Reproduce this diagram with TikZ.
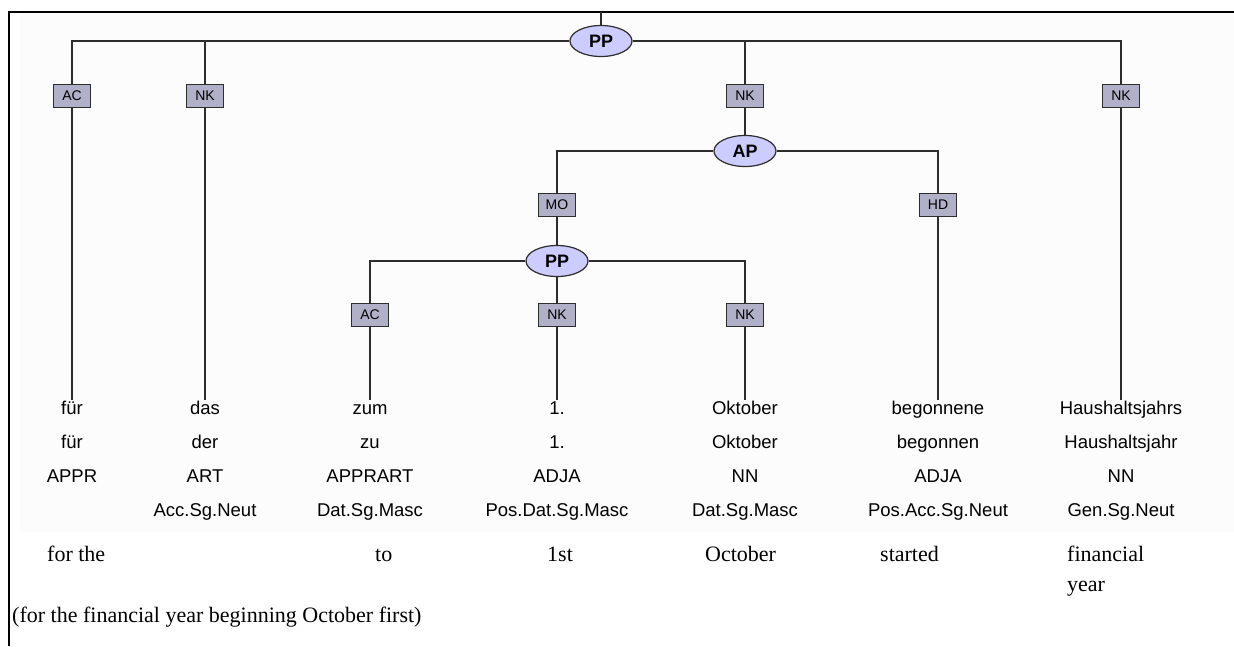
\documentclass[tikz,border=0pt]{standalone}
\usepackage{fontspec}
\setmainfont{Liberation Serif}
\newfontfamily\treefont{Liberation Sans}
\usetikzlibrary{shapes.geometric}

\definecolor{catfill}{RGB}{204,204,255}
\definecolor{labfill}{RGB}{176,176,200}
\definecolor{treeline}{RGB}{45,45,45}

\tikzset{
  cat/.style={ellipse, draw=treeline, fill=catfill, line width=1.2pt,
    minimum width=62pt, minimum height=31pt, inner sep=0pt,
    font=\treefont\fontsize{18}{18}\selectfont\bfseries},
  lab/.style={rectangle, draw=treeline, fill=labfill, line width=1.2pt,
    minimum width=37pt, minimum height=23pt, inner sep=0pt,
    font=\treefont\fontsize{14}{14}\selectfont},
  word/.style={font=\treefont\fontsize{18.5}{18.5}\selectfont, inner sep=0pt,
    text height=14pt, text depth=4pt, anchor=base},
  gloss/.style={font=\fontsize{22}{22}\selectfont, inner sep=0pt, anchor=base west},
  branch/.style={draw=treeline, line width=1.5pt},
}

\begin{document}
\begin{tikzpicture}[x=1pt, y=-1pt]
    \useasboundingbox (0,0) rectangle (1234,646);

    %panel and frame:
    \fill[black!1] (20,14) rectangle (1234,532);
    \draw[line width=2.2pt] (1234,12) -- (9,12) -- (9,646);
    \coordinate (roof) at (601,12);

    %phrase nodes:
    \node[cat] (pp1) at (601,41) {PP};
    \node[cat] (ap) at (745,151) {AP};
    \node[cat] (pp2) at (557,261) {PP};

    %edge labels:
    \node[lab] (ac1) at (72,96) {AC};
    \node[lab] (nk1) at (205,96) {NK};
    \node[lab] (nk2) at (745,96) {NK};
    \node[lab] (nk3) at (1121,96) {NK};
    \node[lab] (mo) at (557,205) {MO};
    \node[lab] (hd) at (938,205) {HD};
    \node[lab] (ac2) at (370,315) {AC};
    \node[lab] (nk4) at (557,315) {NK};
    \node[lab] (nk5) at (745,315) {NK};

    %terminals: word, lemma, tag, morphology
    \foreach \col/\x/\wrd/\lem/\tag/\morph in {
        1/72/für/für/APPR/,
        2/205/das/der/ART/Acc.Sg.Neut,
        3/370/zum/zu/APPRART/Dat.Sg.Masc,
        4/557/1./1./ADJA/Pos.Dat.Sg.Masc,
        5/745/Oktober/Oktober/NN/Dat.Sg.Masc,
        6/938/begonnene/begonnen/ADJA/Pos.Acc.Sg.Neut,
        7/1121/Haushaltsjahrs/Haushaltsjahr/NN/Gen.Sg.Neut}{
      \node[word] (w\col) at (\x,414) {\wrd};
      \node[word] (l\col) at (\x,448) {\lem};
      \node[word] (t\col) at (\x,482) {\tag};
      \node[word] (m\col) at (\x,516) {\morph};
    }

    %branches:
    \draw[branch] (pp1) -- (roof);
    \draw[branch] (ac1.north) |- (pp1.west);
    \draw[branch] (nk1.north) |- (pp1.west);
    \draw[branch] (nk2.north) |- (pp1.east);
    \draw[branch] (nk3.north) |- (pp1.east);
    \draw[branch] (nk2) -- (ap);
    \draw[branch] (mo.north) |- (ap.west);
    \draw[branch] (hd.north) |- (ap.east);
    \draw[branch] (mo) -- (pp2);
    \draw[branch] (ac2.north) |- (pp2.west);
    \draw[branch] (nk4) -- (pp2);
    \draw[branch] (nk5.north) |- (pp2.east);
    \draw[branch] (ac1) -- (w1);
    \draw[branch] (nk1) -- (w2);
    \draw[branch] (ac2) -- (w3);
    \draw[branch] (nk4) -- (w4);
    \draw[branch] (nk5) -- (w5);
    \draw[branch] (hd) -- (w6);
    \draw[branch] (nk3) -- (w7);

    %English glosses:
    \node[gloss] (g1) at (47,561) {for the};
    \node[gloss] (g2) at (375,561) {to};
    \node[gloss] (g3) at (547,561) {1st};
    \node[gloss] (g4) at (705,561) {October};
    \node[gloss] (g5) at (880,561) {started};
    \node[gloss] (g6) at (1067,561) {financial};
    \node[gloss] (g7) at (1067,591) {year};
    \node[gloss] (trans) at (12,622) {(for the financial year beginning October first)};

\end{tikzpicture}
\end{document}
